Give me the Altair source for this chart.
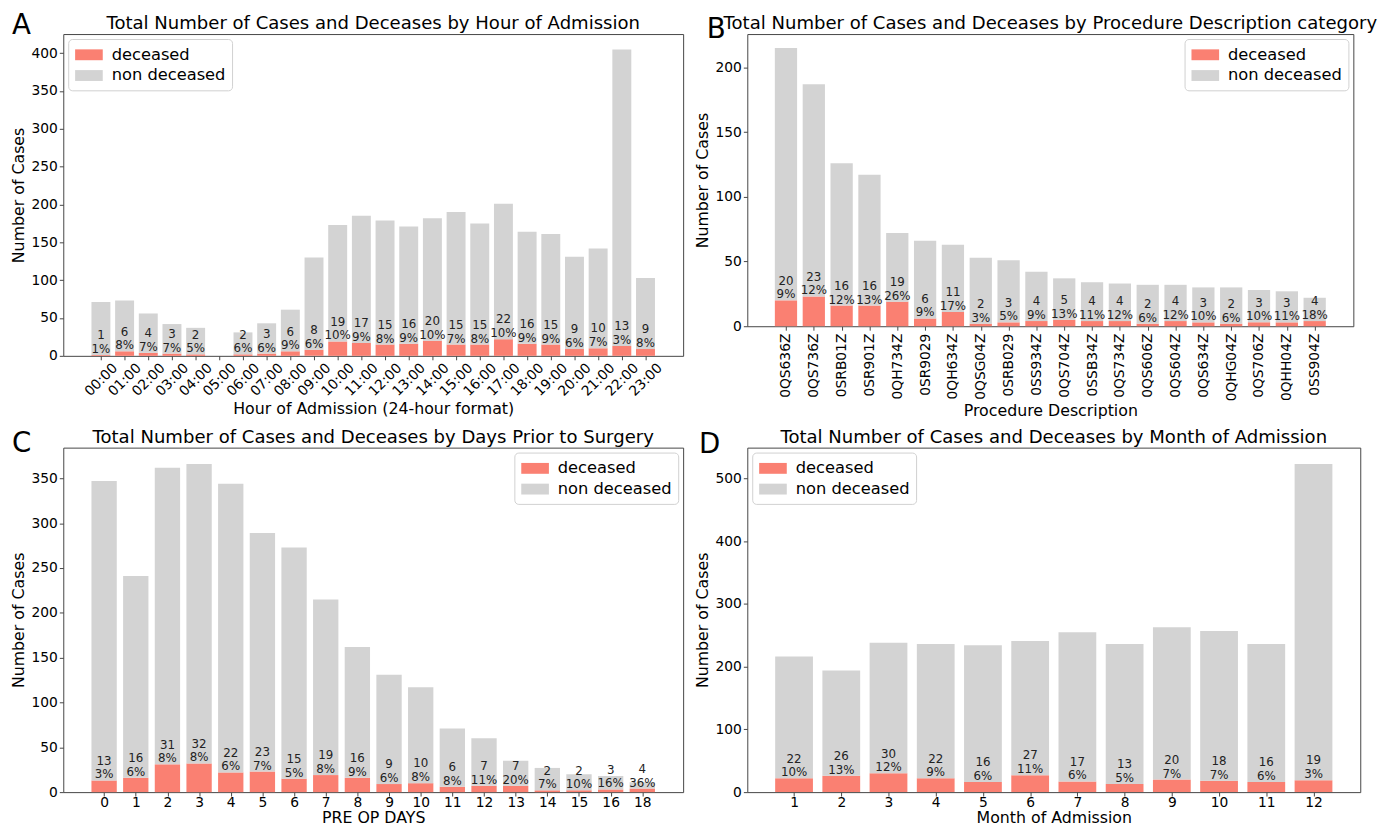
import json
import altair as alt
import pandas as pd

FONT = "DejaVu Sans"
RED = "#fa8072"
GRAY = "#d3d3d3"
STATUS = ["deceased", "non deceased"]

# ---- Panel A: hour of admission ----
hours = ["00:00", "01:00", "02:00", "03:00", "04:00", "05:00", "06:00", "07:00",
         "08:00", "09:00", "10:00", "11:00", "12:00", "13:00", "14:00", "15:00",
         "16:00", "17:00", "18:00", "19:00", "20:00", "21:00", "22:00", "23:00"]
hour_total = [71, 73, 56, 42, 37, 0, 31, 43, 61, 130, 173, 185, 179, 171, 182, 190,
              175, 201, 164, 161, 131, 142, 405, 103]
hour_dec = [1, 6, 4, 3, 2, 0, 2, 3, 6, 8, 19, 17, 15, 16, 20, 15, 15, 22, 16, 15, 9, 10, 13, 9]
hour_pct = [1, 8, 7, 7, 5, None, 6, 6, 9, 6, 10, 9, 8, 9, 10, 7, 8, 10, 9, 9, 6, 7, 3, 8]

# ---- Panel B: procedure description ----
procs = ["0QS636Z", "0QS736Z", "0SRB01Z", "0SR901Z", "0QH734Z", "0SR9029", "0QH634Z",
         "0QSG04Z", "0SRB029", "0SS934Z", "0QS704Z", "0SSB34Z", "0QS734Z", "0QS606Z",
         "0QS604Z", "0QS634Z", "0QHG04Z", "0QS706Z", "0QHH04Z", "0SS904Z"]
proc_total = [215, 187, 126, 117, 72, 66, 63, 53, 51, 42, 37, 34, 33, 32, 32, 30, 30, 28, 27, 22]
proc_dec = [20, 23, 16, 16, 19, 6, 11, 2, 3, 4, 5, 4, 4, 2, 4, 3, 2, 3, 3, 4]
proc_pct = [9, 12, 12, 13, 26, 9, 17, 3, 5, 9, 13, 11, 12, 6, 12, 10, 6, 10, 11, 18]

# ---- Panel C: pre-op days ----
days = ["0", "1", "2", "3", "4", "5", "6", "7", "8", "9", "10", "11", "12", "13",
        "14", "15", "16", "18"]
day_total = [347, 241, 362, 366, 344, 289, 273, 215, 162, 131, 117, 71, 60, 35, 27, 20, 18, 11]
day_dec = [13, 16, 31, 32, 22, 23, 15, 19, 16, 9, 10, 6, 7, 7, 2, 2, 3, 4]
day_pct = [3, 6, 8, 8, 6, 7, 5, 8, 9, 6, 8, 8, 11, 20, 7, 10, 16, 36]

# ---- Panel D: month of admission ----
months = ["1", "2", "3", "4", "5", "6", "7", "8", "9", "10", "11", "12"]
month_total = [216, 194, 238, 236, 234, 241, 255, 236, 263, 257, 236, 523]
month_dec = [22, 26, 30, 22, 16, 27, 17, 13, 20, 18, 16, 19]
month_pct = [10, 13, 12, 9, 6, 11, 6, 5, 7, 7, 6, 3]

BAR_HALF = 0.4


def panel(cats, total, dec, pct, letter, title, xtitle, width, height, yticks,
          legend_orient, label_angle, letter_x, letter_y):
    n = len(cats)
    rows = []
    for i, (c, t, d) in enumerate(zip(cats, total, dec)):
        rows.append({"x0": i - BAR_HALF, "x1": i + BAR_HALF, "status": "deceased",
                     "y0": 0, "y1": d})
        rows.append({"x0": i - BAR_HALF, "x1": i + BAR_HALF, "status": "non deceased",
                     "y0": d, "y1": t})
    df = pd.DataFrame(rows)
    lab = pd.DataFrame({
        "i": [i for i, p in enumerate(pct) if p is not None],
        "dec": [d for d, p in zip(dec, pct) if p is not None],
        "n": [str(d) for d, p in zip(dec, pct) if p is not None],
        "p": [f"{p}%" for p in pct if p is not None],
    })
    span = (n - 1) + 2 * BAR_HALF
    margin = 0.05 * span
    xdom = [-BAR_HALF - margin, n - 1 + BAR_HALF + margin]
    ymax = max(total) * 1.05

    label_expr = json.dumps(cats) + "[datum.value]"
    common = dict(values=list(range(n)), labelExpr=label_expr, title=xtitle,
                  labelOverlap=False, labelFlush=False, labelBound=False)
    if label_angle == -90:
        xaxis = alt.Axis(labelAngle=-90, labelAlign="right", labelBaseline="middle",
                         labelPadding=3, titlePadding=2, **common)
    elif label_angle == -45:
        xaxis = alt.Axis(labelAngle=-45, labelAlign="center", labelBaseline="middle",
                         labelPadding=20, titlePadding=2, **common)
    else:
        xaxis = alt.Axis(labelAngle=0, labelPadding=0, titlePadding=0, **common)
    xscale = alt.Scale(domain=xdom, nice=False, zero=False)
    yscale = alt.Scale(domain=[0, ymax], nice=False)
    yaxis = alt.Axis(values=yticks, title="Number of Cases")

    bars = alt.Chart(df).mark_bar().encode(
        x=alt.X("x0:Q", scale=xscale, axis=xaxis),
        x2="x1:Q",
        y=alt.Y("y0:Q", scale=yscale, axis=yaxis),
        y2="y1:Q",
        color=alt.Color(
            "status:N",
            scale=alt.Scale(domain=STATUS, range=[RED, GRAY]),
            legend=alt.Legend(
                orient=legend_orient, offset=5, title=None, labelFontSize=16.5,
                labelFont=FONT, labelColor="#000",
                symbolType="M-1.4,-0.55H1.4V0.55H-1.4Z", symbolSize=400,
                symbolStrokeWidth=0, padding=6, symbolOffset=5, cornerRadius=4,
                strokeColor="#d0d0d0", fillColor="white", rowPadding=2,
                labelOffset=13,
            ),
        ),
    )
    xt = alt.X("i:Q", scale=xscale, axis=xaxis)
    yt = alt.Y("dec:Q", scale=yscale, axis=yaxis)
    pct_text = alt.Chart(lab).mark_text(
        baseline="alphabetic", dy=-2, fontSize=12, font=FONT, color="#222"
    ).encode(x=xt, y=yt, text="p:N")
    n_text = alt.Chart(lab).mark_text(
        baseline="alphabetic", dy=-16, fontSize=12, font=FONT, color="#222"
    ).encode(x=xt, y=yt, text="n:N")
    let = alt.Chart(pd.DataFrame({"t": [letter]})).mark_text(
        align="left", baseline="alphabetic", fontSize=28, font=FONT, color="#000"
    ).encode(x=alt.value(letter_x), y=alt.value(letter_y), text="t:N")
    ttl = alt.Chart(pd.DataFrame({"t": [title]})).mark_text(
        align="center", baseline="alphabetic", fontSize=18.3, font=FONT, color="#000"
    ).encode(x=alt.value(width / 2), y=alt.value(-5), text="t:N")

    return alt.layer(bars, pct_text, n_text, let, ttl).properties(width=width, height=height)


pA = panel(hours, hour_total, hour_dec, hour_pct, "A",
           "Total Number of Cases and Deceases by Hour of Admission",
           "Hour of Admission (24-hour format)", 628, 326,
           [0, 50, 100, 150, 200, 250, 300, 350, 400], "top-left", -45, -52, 0)
pB = panel(procs, proc_total, proc_dec, proc_pct, "B",
           "Total Number of Cases and Deceases by Procedure Description category",
           "Procedure Description", 614, 296,
           [0, 50, 100, 150, 200], "top-right", -90, -41, 4)
pC = panel(days, day_total, day_dec, day_pct, "C",
           "Total Number of Cases and Deceases by Days Prior to Surgery",
           "PRE OP DAYS", 628, 349,
           [0, 50, 100, 150, 200, 250, 300, 350], "top-right", 0, -52, 4)
pD = panel(months, month_total, month_dec, month_pct, "D",
           "Total Number of Cases and Deceases by Month of Admission",
           "Month of Admission", 621, 349,
           [0, 100, 200, 300, 400, 500], "top-left", 0, -49, 5)

row1 = alt.hconcat(pA, pB, spacing=9).resolve_scale(
    x="independent", y="independent", color="independent").resolve_legend(color="independent")
row2 = alt.hconcat(pC, pD, spacing=9).resolve_scale(
    x="independent", y="independent", color="independent").resolve_legend(color="independent")

chart = alt.vconcat(row1, row2, spacing=7).resolve_scale(
    x="independent", y="independent", color="independent").resolve_legend(
    color="independent").properties(
    padding={"left": 1, "top": -2, "right": 2, "bottom": 0}
).configure_view(stroke="#444", strokeWidth=1).configure_axis(
    labelFont=FONT, titleFont=FONT, labelFontSize=14, titleFontSize=16,
    labelColor="#000", titleColor="#000", titleFontWeight="normal",
    tickColor="#444", tickSize=4, grid=False, domain=False,
    labelPadding=2, titlePadding=5,
)

chart.save("out.html", embed_options={"renderer": "svg", "actions": False})
